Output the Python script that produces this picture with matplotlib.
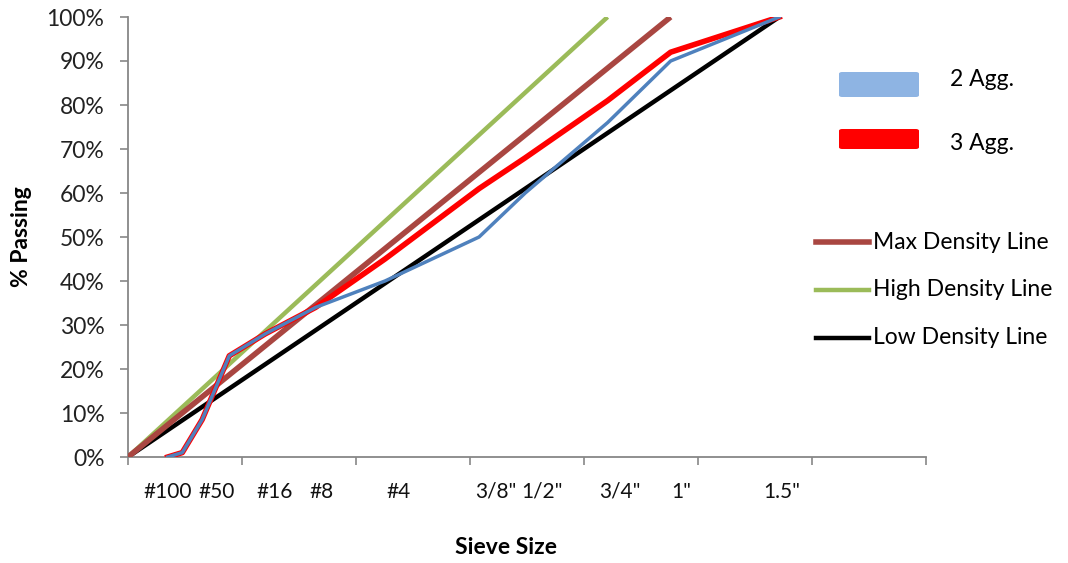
import numpy as np
import matplotlib
matplotlib.use("Agg")
import matplotlib.pyplot as plt
from matplotlib.patches import FancyBboxPatch
from matplotlib.lines import Line2D

plt.rcParams['font.family'] = ['Lato', 'DejaVu Sans']

# sieve sizes in mm
sieve_mm = [0.075, 0.15, 0.3, 0.6, 1.18, 2.36, 4.75, 9.5, 12.5, 19.0, 25.0, 37.5]
agg2_pass = [0, 1, 8.5, 23, 28, 34, 40, 50, 60, 76, 90, 100]
agg3_pass = [0, 1, 8.5, 23, 28, 34, 45, 61, 68, 81, 92, 100]

# density lines: origin to 100% at the max size
max_x, max_y = [0, 25.0], [0, 100]
high_x, high_y = [0, 19.0], [0, 100]
low_x, low_y = [0, 37.5], [0, 100]

sieve_labels = ['#100', '#50', '#16', '#8', '#4', '3/8"', '1/2"', '3/4"', '1"', '1.5"']
label_px = [143, 198, 256, 309, 386, 475, 521, 599, 671, 763]  # left edges, figure px

FS = 16.5
W, H = 1068, 563
fig = plt.figure(figsize=(W / 100, H / 100), dpi=100)
ax = fig.add_axes([128 / W, (H - 457) / H, (926 - 128) / W, (457 - 17) / H])


def fwd(x):
    return np.sign(x) * np.abs(x) ** 0.45


def inv(y):
    return np.sign(y) * np.abs(y) ** (1 / 0.45)


ax.set_xscale('function', functions=(fwd, inv))
xmax_t = 6.26
ax.set_xlim(0, inv(xmax_t))
ax.set_ylim(0, 100)

ax.plot(low_x, low_y, color='black', lw=3.2, solid_capstyle='butt', zorder=2)
ax.plot(high_x, high_y, color='#9BBB59', lw=3.2, solid_capstyle='butt', zorder=3)
ax.plot(max_x, max_y, color='#A94641', lw=4, solid_capstyle='butt', zorder=4)
ax.plot(sieve_mm, agg3_pass, color='#FF0000', lw=4, zorder=5)
ax.plot(sieve_mm, agg2_pass, color='#4F81BD', lw=2.5, zorder=6)

ax.set_xticks(inv(np.linspace(0, xmax_t, 8)))
ax.set_xticklabels([])
ax.xaxis.set_minor_locator(matplotlib.ticker.NullLocator())
ax.set_yticks(np.arange(0, 101, 10))
ax.set_yticklabels([f'{v}%' for v in range(0, 101, 10)], fontsize=FS, color='#222222')
ax.tick_params(axis='both', direction='out', length=6, width=1.2, color='#878787')
ax.tick_params(axis='y', pad=11)
for s in ['top', 'right']:
    ax.spines[s].set_visible(False)
for s in ['left', 'bottom']:
    ax.spines[s].set_color('#878787')
    ax.spines[s].set_linewidth(1.3)

# sieve labels below the axis
for lab, px in zip(sieve_labels, label_px):
    fig.text(px / W, 1 - 492 / H, lab, ha='left', va='center', fontsize=15, color='#111111')

fig.text(506 / W, 1 - 547 / H, 'Sieve Size', ha='center', va='center',
         fontsize=FS, fontweight='bold')
fig.text(22 / W, 1 - 237 / H, '% Passing', ha='center', va='center',
         fontsize=FS, fontweight='bold', rotation=90)

# legend for the blends
for y0, h, ty, col, lab in [(84.5, 25, 80, '#8EB4E3', '2 Agg.'),
                            (139, 20, 143, '#FF0000', '3 Agg.')]:
    fig.patches.append(FancyBboxPatch((839 / W, 1 - (y0 + h / 2) / H), 80 / W, h / H,
                                      boxstyle='round,pad=0,rounding_size=0.003',
                                      transform=fig.transFigure, facecolor=col,
                                      edgecolor='none'))
    fig.text(950 / W, 1 - ty / H, lab, ha='left', va='center', fontsize=FS)

# legend for the density lines
for y0, col, lw, lab in [(242, '#A94641', 4, 'Max Density Line'),
                         (290, '#9BBB59', 3.2, 'High Density Line'),
                         (338, 'black', 3.2, 'Low Density Line')]:
    fig.add_artist(Line2D([816 / W, 869 / W], [1 - y0 / H, 1 - y0 / H], color=col, lw=lw,
                          transform=fig.transFigure))
    fig.text(873 / W, 1 - y0 / H, lab, ha='left', va='center', fontsize=FS)

fig.savefig('out.png', dpi=100)
